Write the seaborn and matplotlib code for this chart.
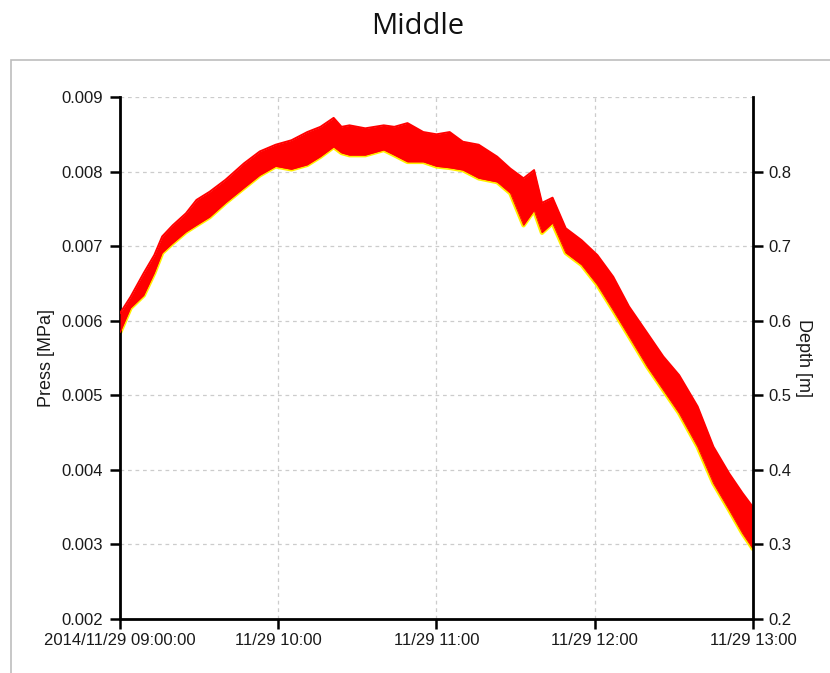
import matplotlib
matplotlib.use("Agg")
import matplotlib.pyplot as plt
from matplotlib.patches import Rectangle
import numpy as np
import pandas as pd
import seaborn as sns

sns.set_theme(style="white")
plt.rcParams['font.family'] = ['Liberation Sans Narrow', 'Liberation Sans', 'DejaVu Sans']

# data: minutes after 09:00, upper / lower edge of the noisy trace
minutes = [0, 4, 9, 13, 16, 20, 25, 29, 34, 40, 47, 53, 59, 65, 71, 76, 81, 84, 87, 93,
           100, 104, 109, 115, 120, 125, 130, 136, 143, 148, 153, 157, 160, 164, 169,
           175, 181, 187, 193, 200, 206, 212, 219, 225, 231, 236, 240]
press_hi = [0.00610, 0.00632, 0.00664, 0.00688, 0.00713, 0.00728, 0.00744, 0.00762,
            0.00773, 0.00789, 0.00811, 0.00827, 0.00836, 0.00842, 0.00853, 0.00860,
            0.00872, 0.00860, 0.00862, 0.00858, 0.00862, 0.00860, 0.00865, 0.00853,
            0.00850, 0.00853, 0.00840, 0.00836, 0.00820, 0.00804, 0.00791, 0.00802,
            0.00758, 0.00765, 0.00724, 0.00708, 0.00688, 0.00659, 0.00619, 0.00583,
            0.00552, 0.00527, 0.00485, 0.00431, 0.00395, 0.00369, 0.00350]
press_lo = [0.00584, 0.00617, 0.00634, 0.00664, 0.00691, 0.00704, 0.00719, 0.00728,
            0.00739, 0.00758, 0.00778, 0.00795, 0.00807, 0.00803, 0.00809, 0.00820,
            0.00833, 0.00825, 0.00822, 0.00822, 0.00829, 0.00822, 0.00813, 0.00813,
            0.00807, 0.00805, 0.00802, 0.00791, 0.00786, 0.00771, 0.00728, 0.00748,
            0.00718, 0.00731, 0.00691, 0.00675, 0.00648, 0.00614, 0.00579, 0.00538,
            0.00507, 0.00476, 0.00431, 0.00382, 0.00346, 0.00315, 0.00294]

hour_ticks = pd.date_range('2014-11-29 09:00', periods=5, freq='h')
hour_labels = ['2014/11/29 09:00:00', '11/29 10:00', '11/29 11:00', '11/29 12:00', '11/29 13:00']
press_ticks = [0.002, 0.003, 0.004, 0.005, 0.006, 0.007, 0.008, 0.009]
depth_ticks = [0.2, 0.3, 0.4, 0.5, 0.6, 0.7, 0.8]

times = pd.Timestamp('2014-11-29 09:00') + pd.to_timedelta(minutes, unit='min')
df = pd.DataFrame({'time': times, 'hi': press_hi, 'lo': press_lo})

fig = plt.figure(figsize=(8.3, 6.73), dpi=100)
ax = fig.add_axes([120 / 830, 1 - 619 / 673, 633 / 830, 522 / 673])

# outer panel frame + title
fig.patches.append(Rectangle((11 / 830, -0.02), 1.0, 1 - 60 / 673 + 0.02, transform=fig.transFigure,
                             fill=False, ec='#bdbdbd', lw=1.2))
fig.text(418 / 830, 1 - 27 / 673, 'Middle', ha='center', va='center', fontsize=21,
         family=['Open Sans', 'DejaVu Sans'], color='#111111')

# yellow edge below, red band on top
sns.lineplot(data=df, x='time', y='lo', ax=ax, color='#ffee00', lw=3.2, zorder=2)
ax.fill_between(df['time'], df['lo'], df['hi'], color='#ff0000', lw=0, zorder=3)
sns.lineplot(data=df, x='time', y='hi', ax=ax, color='#ff0000', lw=1.4, zorder=3)
sns.lineplot(data=df, x='time', y='lo', ax=ax, color='#ff0000', lw=0.6, zorder=3)

ax.set_xlim(hour_ticks[0], hour_ticks[-1])
ax.set_ylim(0.002, 0.009)
ax.set_xticks(hour_ticks)
ax.set_xticklabels(hour_labels)
ax.set_yticks(press_ticks)
ax.set_yticklabels([f'{v:.3f}' for v in press_ticks])
ax.grid(True, color='#cccccc', linestyle=(0, (3, 3)), lw=0.9)
ax.set_axisbelow(True)

ax2 = ax.twinx()
ax2.set_ylim(0.2, 0.9)
ax2.set_yticks(depth_ticks)
ax2.set_yticklabels([f'{v:.1f}' for v in depth_ticks])

for a in (ax, ax2):
    for s in a.spines.values():
        s.set_visible(False)
ax.spines['left'].set_visible(True)
ax.spines['bottom'].set_visible(True)
ax2.spines['right'].set_visible(True)
for s in (ax.spines['left'], ax.spines['bottom'], ax2.spines['right']):
    s.set_linewidth(2.0)
    s.set_color('black')

ax.tick_params(axis='both', direction='out', length=7, width=1.8, color='black',
               labelsize=12, labelcolor='#1a1a1a', left=True, bottom=True)
ax.tick_params(axis='y', pad=5)
ax.tick_params(axis='x', pad=3)
ax2.tick_params(axis='y', direction='out', length=7, width=1.8, color='black',
                labelsize=12, labelcolor='#1a1a1a', right=True, pad=4)

ax.set_xlabel('')
ax.set_ylabel('Press [MPa]', fontsize=13, family=['Liberation Sans', 'DejaVu Sans'], color='#1a1a1a')
ax.yaxis.set_label_coords(-0.103, 0.5)
ax2.set_ylabel('Depth [m]', fontsize=13, family=['Liberation Sans', 'DejaVu Sans'], color='#1a1a1a',
               rotation=270, va='center')
ax2.yaxis.set_label_coords(1.079, 0.5)

fig.savefig('out.png', dpi=100)
